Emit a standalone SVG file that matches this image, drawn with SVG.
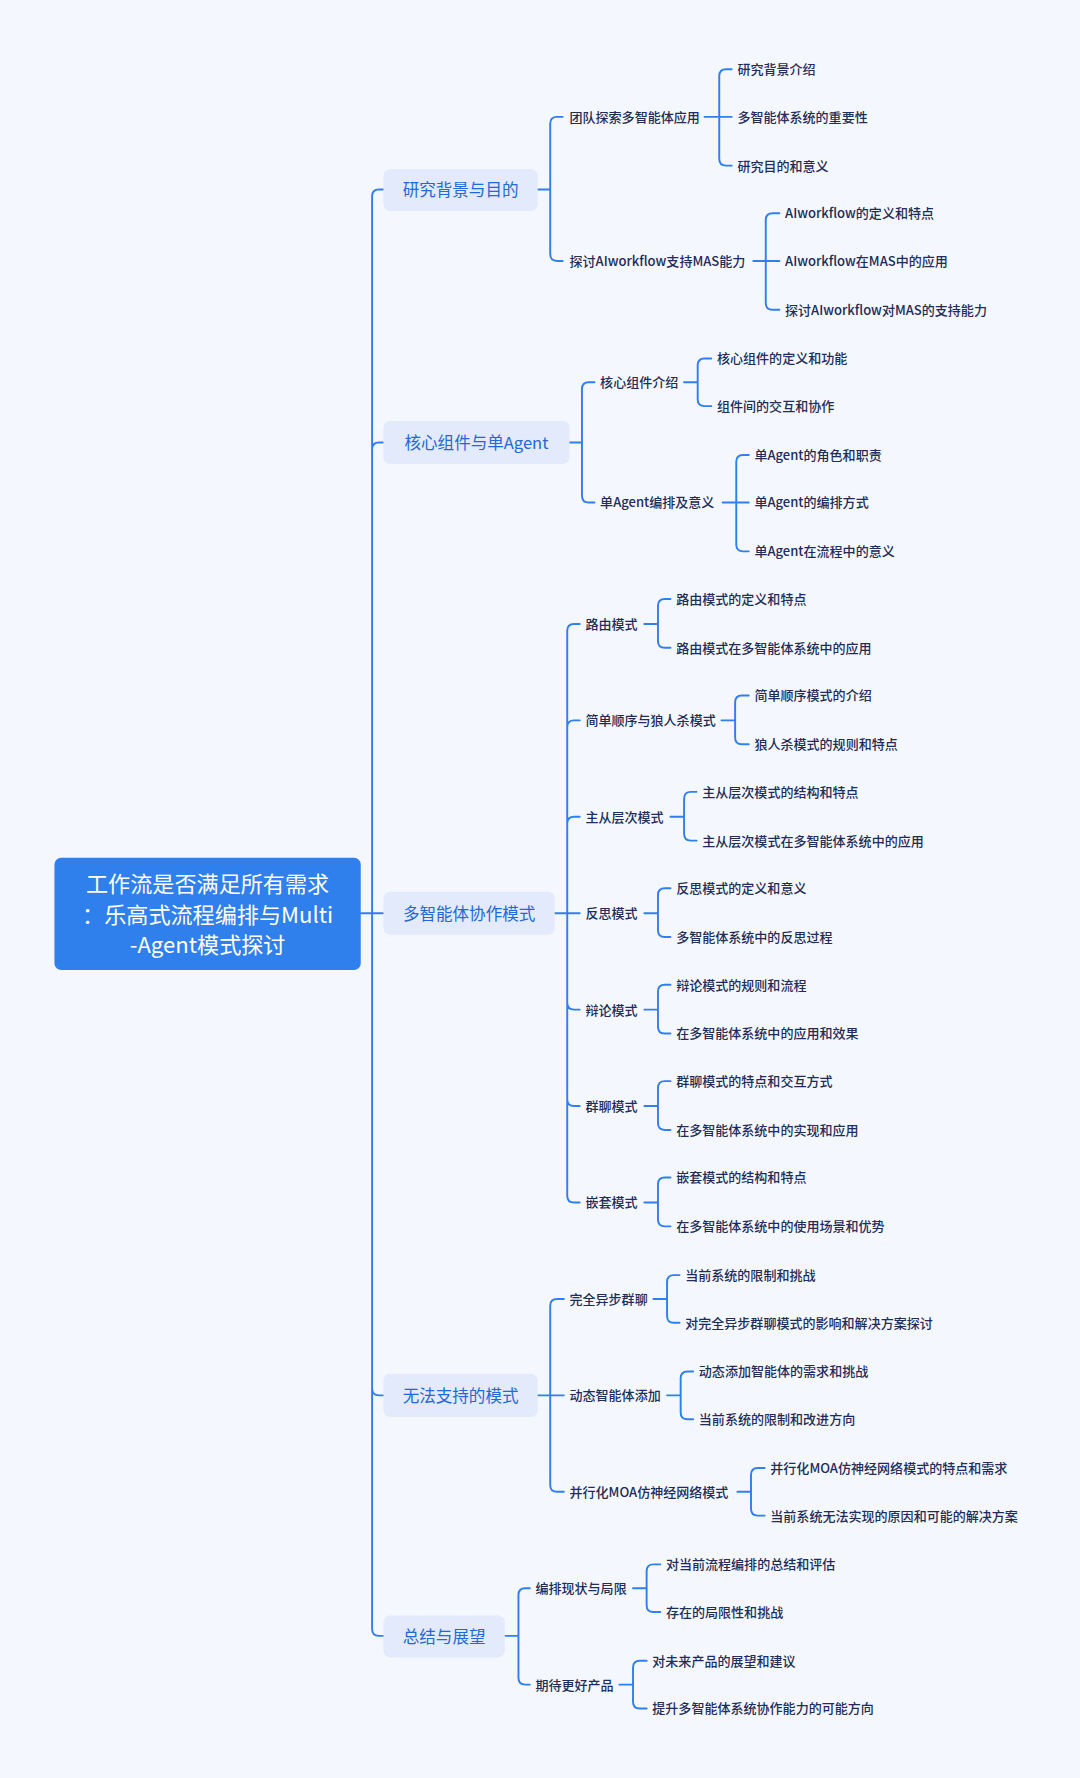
<svg xmlns="http://www.w3.org/2000/svg" width="1080" height="1778" viewBox="0 0 1080 1778">
<style>
text{font-family:"Noto Sans CJK SC","Noto Sans",sans-serif;dominant-baseline:central}
.root{fill:#2f80ec}
.rt{fill:#ffffff;font-size:19.5px;text-anchor:middle}
.l1{fill:#e2eafc}
.t1{fill:#2368d6;font-size:14.6px;text-anchor:middle}
.t{fill:#212c58;font-size:11.5px;font-weight:500}
.c{fill:none;stroke:#2f80ec;stroke-width:1.7;stroke-linecap:round;stroke-linejoin:round}
</style>
<rect width="1080" height="1778" fill="#f5f7fe"/>
<g transform="scale(1.13445)">
<g id="connectors" class="c">
<path d="M318 805 H328 M328 805 V173 Q328 167 334 167 H338 M328 805 V396 Q328 390 334 390 H338 M328 805 H338 M328 805 V1224 Q328 1230 334 1230 H338 M328 805 V1436 Q328 1442 334 1442 H338"/>
<path d="M474 167 H485 M485 167 V109 Q485 103 491 103 H496 M485 167 V224 Q485 230 491 230 H496"/>
<path d="M621 103 H634 M634 103 V67 Q634 61 640 61 H645 M634 103 H645 M634 103 V140 Q634 146 640 146 H645"/>
<path d="M664 230 H675 M675 230 V194 Q675 188 681 188 H687 M675 230 H687 M675 230 V267 Q675 273 681 273 H687"/>
<path d="M502 390 H513 M513 390 V343 Q513 337 519 337 H524 M513 390 V437 Q513 443 519 443 H524"/>
<path d="M603 337 H615 M615 337 V322 Q615 316 621 316 H627 M615 337 V352 Q615 358 621 358 H627"/>
<path d="M637 443 H649 M649 443 V407 Q649 401 655 401 H660 M649 443 H660 M649 443 V480 Q649 486 655 486 H660"/>
<path d="M489 805 H500 M500 805 V556 Q500 550 506 550 H511 M500 805 V641 Q500 635 506 635 H511 M500 805 V726 Q500 720 506 720 H511 M500 805 H511 M500 805 V884 Q500 890 506 890 H511 M500 805 V969 Q500 975 506 975 H511 M500 805 V1054 Q500 1060 506 1060 H511"/>
<path d="M568 550 H580 M580 550 V534 Q580 528 586 528 H591 M580 550 V565 Q580 571 586 571 H591"/>
<path d="M636 635 H648 M648 635 V619 Q648 613 654 613 H660 M648 635 V650 Q648 656 654 656 H660"/>
<path d="M591 720 H603 M603 720 V704 Q603 698 609 698 H614 M603 720 V735 Q603 741 609 741 H614"/>
<path d="M568 805 H580 M580 805 V789 Q580 783 586 783 H591 M580 805 V820 Q580 826 586 826 H591"/>
<path d="M568 890 H580 M580 890 V874 Q580 868 586 868 H591 M580 890 V905 Q580 911 586 911 H591"/>
<path d="M568 975 H580 M580 975 V959 Q580 953 586 953 H591 M580 975 V990 Q580 996 586 996 H591"/>
<path d="M568 1060 H580 M580 1060 V1044 Q580 1038 586 1038 H591 M580 1060 V1075 Q580 1081 586 1081 H591"/>
<path d="M474 1230 H485 M485 1230 V1151 Q485 1145 491 1145 H497 M485 1230 H497 M485 1230 V1309 Q485 1315 491 1315 H497"/>
<path d="M576 1145 H588 M588 1145 V1130 Q588 1124 594 1124 H599 M588 1145 V1160 Q588 1166 594 1166 H599"/>
<path d="M588 1230 H600 M600 1230 V1215 Q600 1209 606 1209 H611 M600 1230 V1245 Q600 1251 606 1251 H611"/>
<path d="M650 1315 H662 M662 1315 V1300 Q662 1294 668 1294 H674 M662 1315 V1330 Q662 1336 668 1336 H674"/>
<path d="M445 1442 H457 M457 1442 V1406 Q457 1400 463 1400 H467 M457 1442 V1479 Q457 1485 463 1485 H467"/>
<path d="M558 1400 H570 M570 1400 V1385 Q570 1379 576 1379 H582 M570 1400 V1415 Q570 1421 576 1421 H582"/>
<path d="M546 1485 H558 M558 1485 V1470 Q558 1464 564 1464 H570 M558 1485 V1500 Q558 1506 564 1506 H570"/>
</g>
<g id="root">
<rect class="root" x="48" y="756" width="270" height="99" rx="6"/>
<text class="rt" x="183" y="777.5">工作流是否满足所有需求</text>
<text class="rt" x="183" y="804.5">：乐高式流程编排与Multi</text>
<text class="rt" x="183" y="831.5">-Agent模式探讨</text>
</g>
<g id="n1"><rect class="l1" x="338" y="149" width="136" height="37" rx="6"/><text class="t1" x="406" y="167">研究背景与目的</text></g>
<g id="n2"><rect class="l1" x="338" y="371" width="164" height="38" rx="6"/><text class="t1" x="420" y="389.5">核心组件与单Agent</text></g>
<g id="n3"><rect class="l1" x="338" y="786" width="151" height="38" rx="6"/><text class="t1" x="413.5" y="804.5">多智能体协作模式</text></g>
<g id="n4"><rect class="l1" x="338" y="1211" width="136" height="38" rx="6"/><text class="t1" x="406" y="1229.5">无法支持的模式</text></g>
<g id="n5"><rect class="l1" x="338" y="1424" width="107" height="37" rx="6"/><text class="t1" x="391.5" y="1442">总结与展望</text></g>
<g id="n1-1"><text class="t" x="502" y="102.5">团队探索多智能体应用</text></g>
<g id="n1-1-1"><text class="t" x="650" y="60.5">研究背景介绍</text></g>
<g id="n1-1-2"><text class="t" x="650" y="102.5">多智能体系统的重要性</text></g>
<g id="n1-1-3"><text class="t" x="650" y="145.5">研究目的和意义</text></g>
<g id="n1-2"><text class="t" x="502" y="229.5">探讨AIworkflow支持MAS能力</text></g>
<g id="n1-2-1"><text class="t" x="692" y="187.5">AIworkflow的定义和特点</text></g>
<g id="n1-2-2"><text class="t" x="692" y="229.5">AIworkflow在MAS中的应用</text></g>
<g id="n1-2-3"><text class="t" x="692" y="272.5">探讨AIworkflow对MAS的支持能力</text></g>
<g id="n2-1"><text class="t" x="529" y="336.5">核心组件介绍</text></g>
<g id="n2-1-1"><text class="t" x="632" y="315.5">核心组件的定义和功能</text></g>
<g id="n2-1-2"><text class="t" x="632" y="357.5">组件间的交互和协作</text></g>
<g id="n2-2"><text class="t" x="529" y="442.5">单Agent编排及意义</text></g>
<g id="n2-2-1"><text class="t" x="665" y="400.5">单Agent的角色和职责</text></g>
<g id="n2-2-2"><text class="t" x="665" y="442.5">单Agent的编排方式</text></g>
<g id="n2-2-3"><text class="t" x="665" y="485.5">单Agent在流程中的意义</text></g>
<g id="n3-1"><text class="t" x="516" y="549.5">路由模式</text></g>
<g id="n3-1-1"><text class="t" x="596" y="527.5">路由模式的定义和特点</text></g>
<g id="n3-1-2"><text class="t" x="596" y="570.5">路由模式在多智能体系统中的应用</text></g>
<g id="n3-2"><text class="t" x="516" y="634.5">简单顺序与狼人杀模式</text></g>
<g id="n3-2-1"><text class="t" x="665" y="612.5">简单顺序模式的介绍</text></g>
<g id="n3-2-2"><text class="t" x="665" y="655.5">狼人杀模式的规则和特点</text></g>
<g id="n3-3"><text class="t" x="516" y="719.5">主从层次模式</text></g>
<g id="n3-3-1"><text class="t" x="619" y="697.5">主从层次模式的结构和特点</text></g>
<g id="n3-3-2"><text class="t" x="619" y="740.5">主从层次模式在多智能体系统中的应用</text></g>
<g id="n3-4"><text class="t" x="516" y="804.5">反思模式</text></g>
<g id="n3-4-1"><text class="t" x="596" y="782.5">反思模式的定义和意义</text></g>
<g id="n3-4-2"><text class="t" x="596" y="825.5">多智能体系统中的反思过程</text></g>
<g id="n3-5"><text class="t" x="516" y="889.5">辩论模式</text></g>
<g id="n3-5-1"><text class="t" x="596" y="867.5">辩论模式的规则和流程</text></g>
<g id="n3-5-2"><text class="t" x="596" y="910.5">在多智能体系统中的应用和效果</text></g>
<g id="n3-6"><text class="t" x="516" y="974.5">群聊模式</text></g>
<g id="n3-6-1"><text class="t" x="596" y="952.5">群聊模式的特点和交互方式</text></g>
<g id="n3-6-2"><text class="t" x="596" y="995.5">在多智能体系统中的实现和应用</text></g>
<g id="n3-7"><text class="t" x="516" y="1059.5">嵌套模式</text></g>
<g id="n3-7-1"><text class="t" x="596" y="1037.5">嵌套模式的结构和特点</text></g>
<g id="n3-7-2"><text class="t" x="596" y="1080.5">在多智能体系统中的使用场景和优势</text></g>
<g id="n4-1"><text class="t" x="502" y="1144.5">完全异步群聊</text></g>
<g id="n4-1-1"><text class="t" x="604" y="1123.5">当前系统的限制和挑战</text></g>
<g id="n4-1-2"><text class="t" x="604" y="1165.5">对完全异步群聊模式的影响和解决方案探讨</text></g>
<g id="n4-2"><text class="t" x="502" y="1229.5">动态智能体添加</text></g>
<g id="n4-2-1"><text class="t" x="616" y="1208.5">动态添加智能体的需求和挑战</text></g>
<g id="n4-2-2"><text class="t" x="616" y="1250.5">当前系统的限制和改进方向</text></g>
<g id="n4-3"><text class="t" x="502" y="1314.5">并行化MOA仿神经网络模式</text></g>
<g id="n4-3-1"><text class="t" x="679" y="1293.5">并行化MOA仿神经网络模式的特点和需求</text></g>
<g id="n4-3-2"><text class="t" x="679" y="1335.5">当前系统无法实现的原因和可能的解决方案</text></g>
<g id="n5-1"><text class="t" x="472" y="1399.5">编排现状与局限</text></g>
<g id="n5-1-1"><text class="t" x="587" y="1378.5">对当前流程编排的总结和评估</text></g>
<g id="n5-1-2"><text class="t" x="587" y="1420.5">存在的局限性和挑战</text></g>
<g id="n5-2"><text class="t" x="472" y="1484.5">期待更好产品</text></g>
<g id="n5-2-1"><text class="t" x="575" y="1463.5">对未来产品的展望和建议</text></g>
<g id="n5-2-2"><text class="t" x="575" y="1505.5">提升多智能体系统协作能力的可能方向</text></g>
</g>
</svg>
